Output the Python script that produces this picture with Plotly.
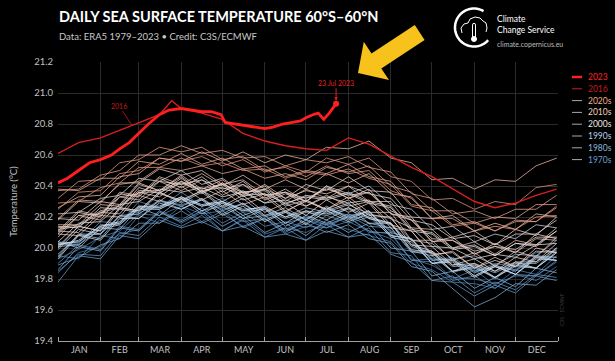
import math
import plotly.graph_objects as go

# ---------------- data ----------------
DAYS = [1, 16, 32, 46, 60, 75, 91, 106, 121, 136, 152, 167, 182, 197, 213, 228,
        244, 259, 274, 289, 305, 320, 335, 350, 365]

MONTHS = ["JAN", "FEB", "MAR", "APR", "MAY", "JUN", "JUL", "AUG", "SEP", "OCT", "NOV", "DEC"]
MONTH_STARTS = [1, 32, 60, 91, 121, 152, 182, 213, 244, 274, 305, 335, 366]
Y_TICKS = [19.4, 19.6, 19.8, 20.0, 20.2, 20.4, 20.6, 20.8, 21.0, 21.2]

sst_1979 = [19.84,19.97,20.01,20.09,20.12,20.24,20.16,20.23,20.11,20.19,20.09,20.13,20.10,20.16,20.12,20.08,20.04,19.90,19.86,19.78,19.77,19.74,19.83,19.79,19.88]
sst_1980 = [19.93,19.99,20.07,20.11,20.22,20.21,20.27,20.22,20.24,20.17,20.19,20.12,20.18,20.15,20.20,20.10,20.10,19.92,19.93,19.80,19.86,19.76,19.86,19.83,19.95]
sst_1981 = [19.95,19.93,20.08,20.06,20.21,20.16,20.27,20.17,20.24,20.13,20.19,20.09,20.14,20.13,20.17,20.11,20.06,19.93,19.89,19.81,19.80,19.77,19.82,19.82,19.91]
sst_1982 = [19.90,20.02,19.99,20.14,20.12,20.24,20.18,20.26,20.16,20.23,20.14,20.17,20.13,20.21,20.16,20.20,20.08,20.06,19.92,19.94,19.85,19.90,19.88,19.97,19.98]
sst_1983 = [20.04,20.03,20.17,20.16,20.30,20.26,20.36,20.27,20.32,20.23,20.25,20.16,20.20,20.15,20.20,20.11,20.09,19.92,19.91,19.79,19.82,19.74,19.83,19.82,19.92]
sst_1984 = [19.85,19.96,19.95,20.10,20.08,20.20,20.14,20.21,20.11,20.18,20.07,20.13,20.05,20.15,20.07,20.13,19.97,19.95,19.79,19.82,19.71,19.78,19.73,19.83,19.81]
sst_1985 = [19.78,19.95,19.93,20.08,20.06,20.18,20.13,20.17,20.11,20.14,20.07,20.09,20.05,20.11,20.07,20.09,19.96,19.91,19.79,19.78,19.69,19.76,19.71,19.82,19.79]
sst_1986 = [19.89,19.94,20.02,20.06,20.16,20.16,20.24,20.16,20.22,20.14,20.19,20.10,20.18,20.13,20.21,20.14,20.13,19.97,19.97,19.84,19.89,19.80,19.90,19.87,19.98]
sst_1987 = [19.95,20.09,20.09,20.20,20.22,20.30,20.28,20.31,20.25,20.28,20.21,20.23,20.19,20.25,20.21,20.23,20.11,20.05,19.93,19.92,19.85,19.88,19.86,19.94,19.94]
sst_1988 = [20.03,20.02,20.15,20.15,20.26,20.25,20.32,20.24,20.27,20.19,20.21,20.11,20.16,20.10,20.15,20.06,20.03,19.88,19.85,19.74,19.62,19.68,19.77,19.76,19.86]
sst_1989 = [19.86,20.01,19.98,20.13,20.11,20.23,20.17,20.24,20.14,20.21,20.10,20.16,20.08,20.18,20.10,20.16,20.00,19.98,19.82,19.85,19.74,19.81,19.75,19.87,19.84]
sst_1990 = [20.03,20.04,20.13,20.16,20.26,20.26,20.32,20.27,20.29,20.24,20.25,20.19,20.23,20.21,20.25,20.19,20.15,20.01,19.97,19.88,19.89,19.84,19.90,19.90,19.99]
sst_1991 = [19.96,20.08,20.09,20.21,20.22,20.31,20.27,20.32,20.24,20.29,20.20,20.24,20.18,20.26,20.20,20.24,20.10,20.06,19.92,19.93,19.84,19.89,19.85,19.95,19.94]
sst_1992 = [20.04,20.00,20.13,20.12,20.26,20.21,20.32,20.22,20.29,20.19,20.25,20.14,20.21,20.16,20.22,20.16,20.13,19.98,19.95,19.85,19.87,19.81,19.88,19.87,19.97]
sst_1993 = [19.94,20.09,20.06,20.21,20.19,20.31,20.25,20.32,20.22,20.29,20.18,20.24,20.16,20.26,20.18,20.24,20.08,20.06,19.90,19.93,19.82,19.89,19.83,19.95,19.92]
sst_1994 = [20.02,20.04,20.14,20.16,20.27,20.26,20.33,20.27,20.30,20.24,20.27,20.20,20.26,20.23,20.28,20.22,20.19,20.05,20.03,19.93,19.95,19.89,19.96,19.95,20.05]
sst_1995 = [20.01,20.14,20.11,20.26,20.24,20.36,20.29,20.36,20.26,20.32,20.21,20.26,20.18,20.27,20.19,20.24,20.08,20.06,19.90,19.92,19.82,19.88,19.83,19.94,19.92]
sst_1996 = [20.01,20.02,20.12,20.15,20.25,20.25,20.32,20.24,20.30,20.21,20.26,20.16,20.24,20.18,20.26,20.16,20.16,19.98,19.98,19.85,19.90,19.81,19.91,19.87,20.00]
sst_1997 = [19.99,20.12,20.09,20.25,20.23,20.35,20.31,20.37,20.30,20.37,20.29,20.35,20.30,20.40,20.35,20.40,20.28,20.25,20.12,20.14,20.04,20.09,20.06,20.15,20.13]
sst_1998 = [20.22,20.23,20.32,20.34,20.45,20.43,20.50,20.41,20.45,20.36,20.37,20.27,20.31,20.24,20.29,20.19,20.16,19.99,19.97,19.85,19.88,19.81,19.89,19.87,19.97]
sst_1999 = [19.93,20.08,20.05,20.19,20.19,20.29,20.25,20.31,20.21,20.27,20.17,20.23,20.15,20.24,20.17,20.22,20.07,20.04,19.90,19.91,19.81,19.88,19.83,19.93,19.92]
sst_2000 = [20.02,20.05,20.14,20.17,20.27,20.27,20.33,20.28,20.30,20.25,20.26,20.20,20.24,20.22,20.26,20.20,20.16,20.02,19.98,19.89,19.90,19.85,19.91,19.91,20.00]
sst_2001 = [20.04,20.16,20.17,20.28,20.30,20.38,20.36,20.39,20.33,20.36,20.29,20.31,20.27,20.33,20.29,20.31,20.19,20.13,20.01,20.00,19.93,19.96,19.94,20.02,20.03]
sst_2002 = [20.12,20.14,20.23,20.26,20.36,20.36,20.42,20.37,20.39,20.34,20.35,20.29,20.33,20.31,20.35,20.29,20.26,20.11,20.09,19.99,20.01,19.95,20.03,20.01,20.11]
sst_2003 = [20.09,20.21,20.22,20.33,20.35,20.43,20.41,20.44,20.38,20.41,20.34,20.36,20.32,20.38,20.34,20.36,20.24,20.18,20.06,20.05,19.98,20.01,19.99,20.07,20.07]
sst_2004 = [20.14,20.13,20.26,20.25,20.39,20.35,20.45,20.36,20.42,20.33,20.38,20.28,20.34,20.32,20.36,20.30,20.27,20.12,20.10,20.00,20.02,19.95,20.03,20.02,20.11]
sst_2005 = [20.10,20.23,20.20,20.35,20.33,20.45,20.39,20.46,20.36,20.43,20.32,20.38,20.30,20.40,20.32,20.38,20.22,20.20,20.04,20.07,19.96,20.03,19.97,20.09,20.06]
sst_2006 = [20.13,20.15,20.24,20.27,20.37,20.37,20.43,20.38,20.41,20.36,20.38,20.32,20.37,20.35,20.40,20.35,20.32,20.18,20.15,20.06,20.08,20.02,20.09,20.09,20.18]
sst_2007 = [20.19,20.18,20.30,20.28,20.42,20.37,20.46,20.36,20.41,20.31,20.35,20.24,20.30,20.25,20.31,20.21,20.20,20.02,20.01,19.89,19.93,19.85,19.94,19.91,20.03]
sst_2008 = [20.00,20.14,20.11,20.26,20.24,20.36,20.30,20.37,20.27,20.34,20.23,20.29,20.21,20.31,20.23,20.29,20.13,20.11,19.95,19.98,19.87,19.94,19.88,20.00,19.97]
sst_2009 = [20.11,20.10,20.23,20.22,20.36,20.33,20.43,20.35,20.42,20.34,20.41,20.32,20.41,20.37,20.46,20.37,20.36,20.20,20.19,20.07,20.11,20.02,20.12,20.08,20.20]
sst_2010 = [20.18,20.30,20.29,20.42,20.42,20.51,20.47,20.50,20.41,20.44,20.34,20.36,20.27,20.34,20.27,20.30,20.15,20.11,19.96,19.97,19.87,19.92,19.88,19.98,19.97]
sst_2011 = [20.09,20.08,20.21,20.20,20.34,20.30,20.40,20.31,20.37,20.28,20.33,20.23,20.31,20.25,20.33,20.23,20.23,20.05,20.05,19.92,19.97,19.88,19.98,19.94,20.07]
sst_2012 = [20.07,20.21,20.18,20.33,20.31,20.43,20.37,20.44,20.34,20.41,20.31,20.36,20.30,20.39,20.32,20.36,20.22,20.18,20.04,20.05,19.96,20.01,19.97,20.06,20.05]
sst_2013 = [20.15,20.15,20.28,20.27,20.41,20.37,20.47,20.38,20.44,20.35,20.40,20.30,20.38,20.32,20.40,20.30,20.30,20.13,20.12,20.00,20.04,19.96,20.05,20.02,20.13]
sst_2014 = [20.11,20.24,20.21,20.36,20.34,20.46,20.41,20.48,20.40,20.47,20.38,20.44,20.38,20.48,20.42,20.48,20.35,20.33,20.19,20.21,20.11,20.16,20.12,20.22,20.20]
sst_2015 = [20.26,20.33,20.34,20.46,20.48,20.58,20.56,20.62,20.56,20.62,20.55,20.60,20.57,20.65,20.64,20.69,20.58,20.55,20.44,20.45,20.38,20.44,20.43,20.53,20.58]
sst_2017 = [20.38,20.37,20.45,20.45,20.56,20.54,20.61,20.54,20.58,20.51,20.53,20.46,20.50,20.48,20.54,20.46,20.43,20.28,20.26,20.15,20.17,20.11,20.18,20.17,20.27]
sst_2018 = [20.19,20.31,20.30,20.41,20.43,20.52,20.50,20.53,20.48,20.51,20.45,20.48,20.44,20.52,20.49,20.53,20.40,20.36,20.24,20.24,20.16,20.20,20.19,20.28,20.28]
sst_2019 = [20.37,20.38,20.47,20.50,20.60,20.60,20.66,20.61,20.63,20.58,20.59,20.53,20.57,20.55,20.59,20.52,20.49,20.35,20.32,20.22,20.24,20.19,20.25,20.25,20.34]
sst_2020 = [20.32,20.43,20.44,20.55,20.57,20.65,20.62,20.65,20.57,20.59,20.50,20.52,20.46,20.53,20.48,20.50,20.37,20.32,20.19,20.19,20.11,20.14,20.12,20.20,20.21]
sst_2021 = [20.29,20.30,20.39,20.42,20.52,20.52,20.58,20.53,20.55,20.50,20.51,20.45,20.49,20.47,20.51,20.45,20.41,20.27,20.24,20.14,20.16,20.11,20.17,20.17,20.26]
sst_2022 = [20.25,20.36,20.37,20.48,20.50,20.58,20.56,20.59,20.53,20.57,20.49,20.53,20.49,20.58,20.54,20.58,20.46,20.43,20.31,20.32,20.25,20.30,20.28,20.39,20.41]

DAYS_2016 = [1, 16, 32, 46, 60, 75, 84, 91, 106, 121, 136, 152, 167, 182, 197, 213, 228,
             244, 259, 274, 289, 305, 320, 335, 350, 365]
sst_2016 = [20.61,20.68,20.71,20.76,20.81,20.86,20.95,20.90,20.87,20.83,20.74,20.69,20.66,20.64,20.63,20.71,20.67,
            20.59,20.52,20.46,20.38,20.30,20.26,20.29,20.34,20.38]

DAYS_2023 = [1, 8, 16, 24, 32, 40, 46, 53, 60, 67, 75, 82, 91, 98, 106, 113, 120, 123, 130,
             137, 145, 152, 158, 165, 172, 178, 182, 187, 191, 195, 199, 204]
sst_2023 = [20.42,20.45,20.50,20.55,20.57,20.60,20.64,20.68,20.74,20.80,20.86,20.89,20.90,20.89,20.88,20.88,20.86,20.81,20.80,
            20.79,20.78,20.77,20.78,20.80,20.81,20.82,20.84,20.86,20.87,20.83,20.87,20.93]

YEARS = [
    (1979, sst_1979), (1980, sst_1980), (1981, sst_1981), (1982, sst_1982), (1983, sst_1983),
    (1984, sst_1984), (1985, sst_1985), (1986, sst_1986), (1987, sst_1987), (1988, sst_1988),
    (1989, sst_1989), (1990, sst_1990), (1991, sst_1991), (1992, sst_1992), (1993, sst_1993),
    (1994, sst_1994), (1995, sst_1995), (1996, sst_1996), (1997, sst_1997), (1998, sst_1998),
    (1999, sst_1999), (2000, sst_2000), (2001, sst_2001), (2002, sst_2002), (2003, sst_2003),
    (2004, sst_2004), (2005, sst_2005), (2006, sst_2006), (2007, sst_2007), (2008, sst_2008),
    (2009, sst_2009), (2010, sst_2010), (2011, sst_2011), (2012, sst_2012), (2013, sst_2013),
    (2014, sst_2014), (2015, sst_2015), (2017, sst_2017), (2018, sst_2018), (2019, sst_2019),
    (2020, sst_2020), (2021, sst_2021), (2022, sst_2022),
]

LEGEND_LABELS = ["2023", "2016", "2020s", "2010s", "2000s", "1990s", "1980s", "1970s"]
LEGEND_COLORS = ["#ff2424", "#c81e1e", "#f2ae8e", "#f1cfbe", "#ece4e0", "#b6d1ea", "#8cb8de", "#6c9fd2"]

# ---------------- style helpers ----------------
STOPS = [(1979, (74, 127, 181)), (1986, (110, 160, 205)), (1993, (165, 198, 226)),
         (2000, (226, 230, 236)), (2007, (240, 216, 206)), (2014, (238, 190, 170)),
         (2022, (232, 150, 125))]


def year_color(yr):
    for (y0, c0), (y1, c1) in zip(STOPS[:-1], STOPS[1:]):
        if y0 <= yr <= y1:
            t = (yr - y0) / (y1 - y0)
            r, g, b = (round(c0[i] + (c1[i] - c0[i]) * t) for i in range(3))
            return f"rgb({r},{g},{b})"
    return "rgb(200,200,200)"


W, H = 615, 361
L, R, T, B = 58, 558, 62, 341   # plot area in pixels


def px(x, y):
    return (x - L) / (R - L), (B - y) / (B - T)


def path_from(points, close=False):
    s = ""
    for i, (x, y) in enumerate(points):
        a, b = px(x, y)
        s += ("M" if i == 0 else "L") + f"{a:.5f},{b:.5f} "
    return s + ("Z" if close else "")


FONT = "Lato, 'Open Sans', sans-serif"

fig = go.Figure()

for yr, vals in YEARS:
    fig.add_trace(go.Scatter(x=DAYS, y=vals, mode="lines", name=str(yr),
                             line=dict(color=year_color(yr), width=0.9),
                             opacity=0.85, showlegend=False, hoverinfo="skip"))

fig.add_trace(go.Scatter(x=DAYS_2016, y=sst_2016, mode="lines", name="2016",
                         line=dict(color="#d81e1e", width=1.4), showlegend=False))
fig.add_trace(go.Scatter(x=DAYS_2023, y=sst_2023, mode="lines", name="2023",
                         line=dict(color="#ff1f1f", width=2.8), showlegend=False))
fig.add_trace(go.Scatter(x=[DAYS_2023[-1]], y=[sst_2023[-1]], mode="markers",
                         marker=dict(color="#ff1f1f", size=6), showlegend=False))

shapes = []
annotations = []

# yellow arrow
arrow_pts = [(358, 73), (389, 80), (381.3, 68.4), (424.6, 40.1), (414.8, 25.1), (371.5, 53.4), (363.8, 41.7)]
shapes.append(dict(type="path", xref="paper", yref="paper", path=path_from(arrow_pts, True),
                   fillcolor="#f7c21c", line=dict(width=0)))

# logo: arc
cx, cy, r = 474, 27.5, 19
arc = []
for k in range(0, 61):
    ang = math.radians(60 + k * (258 / 60))
    arc.append((cx + r * math.cos(ang), cy - r * math.sin(ang)))
shapes.append(dict(type="path", xref="paper", yref="paper", path=path_from(arc),
                   line=dict(color="white", width=2.5)))
# cloud top outline
cloud = [(462, 33), (461, 28), (464, 24), (468, 23), (470, 19), (475, 17), (480, 18), (483, 21), (486, 23), (487, 28), (486, 32)]
shapes.append(dict(type="path", xref="paper", yref="paper", path=path_from(cloud),
                   line=dict(color="white", width=1)))
# thermometer
therm = [(472.5, 37), (472.5, 25), (473, 23.5), (475, 23.5), (475.5, 25), (475.5, 37)]
shapes.append(dict(type="path", xref="paper", yref="paper", path=path_from(therm),
                   line=dict(color="white", width=1)))
bx0, by0 = px(471.5, 36.5)
bx1, by1 = px(476.5, 41.5)
shapes.append(dict(type="circle", xref="paper", yref="paper", x0=bx0, y0=by1, x1=bx1, y1=by0,
                   line=dict(color="white", width=1), fillcolor="white"))

# manual legend
for i, (lab, col) in enumerate(zip(LEGEND_LABELS, LEGEND_COLORS)):
    yy = 77 + i * 11.8
    x0, y0 = px(572, yy)
    x1, _ = px(582, yy)
    lc = "#ff2020" if i == 0 else ("#c81e1e" if i == 1 else "#a8a8a8")
    lw = 2.5 if i == 0 else 1
    shapes.append(dict(type="line", xref="paper", yref="paper", x0=x0, x1=x1, y0=y0, y1=y0,
                       line=dict(color=lc, width=lw)))
    tx, ty = px(586, yy)
    annotations.append(dict(xref="paper", yref="paper", x=tx, y=ty, text=lab, showarrow=False,
                            xanchor="left", yanchor="middle",
                            font=dict(family=FONT, size=8.5, color=col)))

# title and subtitle
tx, ty = px(57, 17)
annotations.append(dict(xref="paper", yref="paper", x=tx, y=ty, xanchor="left", yanchor="middle",
                        text="<b>DAILY SEA SURFACE TEMPERATURE 60°S–60°N</b>", showarrow=False,
                        font=dict(family=FONT, size=14.5, color="white")))
tx, ty = px(57, 36)
annotations.append(dict(xref="paper", yref="paper", x=tx, y=ty, xanchor="left", yanchor="middle",
                        text="Data: ERA5 1979–2023 • Credit: C3S/ECMWF", showarrow=False,
                        font=dict(family=FONT, size=9.5, color="#c8c8c8")))
# logo texts
tx, ty = px(495, 25)
annotations.append(dict(xref="paper", yref="paper", x=tx, y=ty, xanchor="left", yanchor="middle",
                        text="Climate<br>Change Service", showarrow=False, align="left",
                        font=dict(family=FONT, size=8.5, color="white")))
tx, ty = px(495, 44)
annotations.append(dict(xref="paper", yref="paper", x=tx, y=ty, xanchor="left", yanchor="middle",
                        text="climate.copernicus.eu", showarrow=False,
                        font=dict(family=FONT, size=7, color="#bdbdbd")))
# tiny vertical credit
tx, ty = px(562, 310)
annotations.append(dict(xref="paper", yref="paper", x=tx, y=ty, xanchor="center", yanchor="middle",
                        text="C3S / ECMWF", showarrow=False, textangle=-90,
                        font=dict(family=FONT, size=5, color="#3c3c3c")))

# data annotations
annotations.append(dict(x=204, y=20.93, xref="x", yref="y", text="23 Jul 2023", showarrow=True,
                        ax=0, ay=-21, arrowhead=2, arrowsize=0.7, arrowwidth=1, arrowcolor="#e02020",
                        standoff=3, font=dict(family=FONT, size=7, color="#e02020")))
annotations.append(dict(x=55, y=20.79, xref="x", yref="y", text="2016", showarrow=True,
                        ax=-13, ay=-20, arrowhead=0, arrowwidth=0.8, arrowcolor="#c01c1c",
                        font=dict(family=FONT, size=7, color="#c01c1c")))

month_mids = [(MONTH_STARTS[i] + MONTH_STARTS[i + 1]) / 2 for i in range(12)]

fig.update_layout(
    width=W, height=H,
    margin=dict(l=L, r=W - R, t=T, b=H - B, autoexpand=False),
    paper_bgcolor="black", plot_bgcolor="black",
    showlegend=False,
    shapes=shapes, annotations=annotations,
    font=dict(family=FONT, color="#c0c0c0"),
    xaxis=dict(range=[1, 366], tickmode="array", tickvals=month_mids, ticktext=MONTHS,
               ticks="", showgrid=False, zeroline=False, showline=True, linecolor="#a0a0a0",
               linewidth=1, tickfont=dict(family=FONT, size=9, color="#c0c0c0"),
               minor=dict(tickmode="array", tickvals=MONTH_STARTS, ticks="inside", ticklen=4,
                          tickcolor="#a0a0a0", showgrid=True, gridcolor="#2a2a2a", gridwidth=1),
               automargin=False, fixedrange=True),
    yaxis=dict(range=[19.4, 21.2], tickmode="array", tickvals=Y_TICKS,
               ticktext=[f"{v:.1f}" for v in Y_TICKS], showgrid=True, gridcolor="#2a2a2a",
               zeroline=False, ticks="", ticklabelstandoff=4,
               tickfont=dict(family=FONT, size=9.5, color="#c0c0c0"),
               title=dict(text="Temperature (°C)", standoff=14,
                          font=dict(family=FONT, size=9.5, color="#c0c0c0")),
               automargin=False, fixedrange=True),
)

fig.write_html("out.html")
